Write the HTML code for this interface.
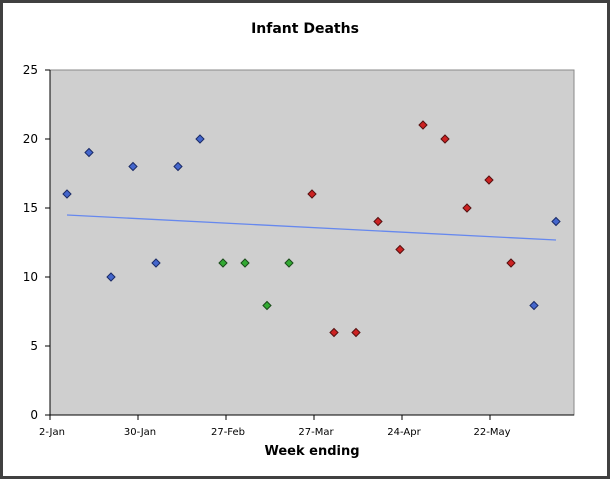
<!DOCTYPE html>
<html><head><style>
body{margin:0;background:#fff;}
svg text{font-family:"DejaVu Sans","Liberation Sans",sans-serif;}
</style></head><body>
<svg width="611" height="480" xmlns="http://www.w3.org/2000/svg">
<rect x="1.5" y="1.5" width="607" height="476" fill="#fff" stroke="#404040" stroke-width="3"/>
<text x="305" y="33" font-size="14" font-weight="bold" text-anchor="middle">Infant Deaths</text>
<rect x="50" y="70" width="524" height="345" fill="#cfcfcf" stroke="#888" stroke-width="1"/>
<line x1="50" y1="70" x2="50" y2="415" stroke="#000"/>
<line x1="50" y1="415" x2="574" y2="415" stroke="#000"/>
<g stroke="#000">
<line x1="45" y1="70" x2="50" y2="70"/><line x1="45" y1="139" x2="50" y2="139"/><line x1="45" y1="208" x2="50" y2="208"/><line x1="45" y1="277" x2="50" y2="277"/><line x1="45" y1="346" x2="50" y2="346"/><line x1="45" y1="415" x2="50" y2="415"/>
<line x1="50" y1="415" x2="50" y2="420"/><line x1="138" y1="415" x2="138" y2="420"/><line x1="226" y1="415" x2="226" y2="420"/><line x1="314" y1="415" x2="314" y2="420"/><line x1="402" y1="415" x2="402" y2="420"/><line x1="490" y1="415" x2="490" y2="420"/>
</g>
<g font-size="12" text-anchor="end">
<text x="38" y="74">25</text><text x="38" y="143">20</text><text x="38" y="212">15</text><text x="38" y="281">10</text><text x="38" y="350">5</text><text x="38" y="419">0</text>
</g>
<g font-size="10" text-anchor="middle">
<text x="52" y="435">2-Jan</text><text x="140" y="435">30-Jan</text><text x="228" y="435">27-Feb</text><text x="316" y="435">27-Mar</text><text x="404" y="435">24-Apr</text><text x="492" y="435">22-May</text>
</g>
<text x="312" y="455" font-size="13" font-weight="bold" text-anchor="middle">Week ending</text>
<line x1="67" y1="215" x2="556" y2="240" stroke="#6688ee" stroke-width="1.3"/>
<g stroke="#1a2a66" stroke-width="1">
<g fill="#4466cc">
<path d="M67,190 l4,4 l-4,4 l-4,-4z"/>
<path d="M89,148.5 l4,4 l-4,4 l-4,-4z"/>
<path d="M111,273 l4,4 l-4,4 l-4,-4z"/>
<path d="M133,162.5 l4,4 l-4,4 l-4,-4z"/>
<path d="M156,259 l4,4 l-4,4 l-4,-4z"/>
<path d="M178,162.5 l4,4 l-4,4 l-4,-4z"/>
<path d="M200,135 l4,4 l-4,4 l-4,-4z"/>
<path d="M534,301.5 l4,4 l-4,4 l-4,-4z"/>
<path d="M556,217.5 l4,4 l-4,4 l-4,-4z"/>
</g>
<g fill="#33aa33" stroke="#1a4a1a">
<path d="M223,259 l4,4 l-4,4 l-4,-4z"/>
<path d="M245,259 l4,4 l-4,4 l-4,-4z"/>
<path d="M267,301.5 l4,4 l-4,4 l-4,-4z"/>
<path d="M289,259 l4,4 l-4,4 l-4,-4z"/>
</g>
<g fill="#cc2222" stroke="#551111">
<path d="M312,190 l4,4 l-4,4 l-4,-4z"/>
<path d="M334,328.5 l4,4 l-4,4 l-4,-4z"/>
<path d="M356,328.5 l4,4 l-4,4 l-4,-4z"/>
<path d="M378,217.5 l4,4 l-4,4 l-4,-4z"/>
<path d="M400,245.5 l4,4 l-4,4 l-4,-4z"/>
<path d="M423,121 l4,4 l-4,4 l-4,-4z"/>
<path d="M445,135 l4,4 l-4,4 l-4,-4z"/>
<path d="M467,204 l4,4 l-4,4 l-4,-4z"/>
<path d="M489,176 l4,4 l-4,4 l-4,-4z"/>
<path d="M511,259 l4,4 l-4,4 l-4,-4z"/>
</g>
</g>
</svg>
</body></html>
